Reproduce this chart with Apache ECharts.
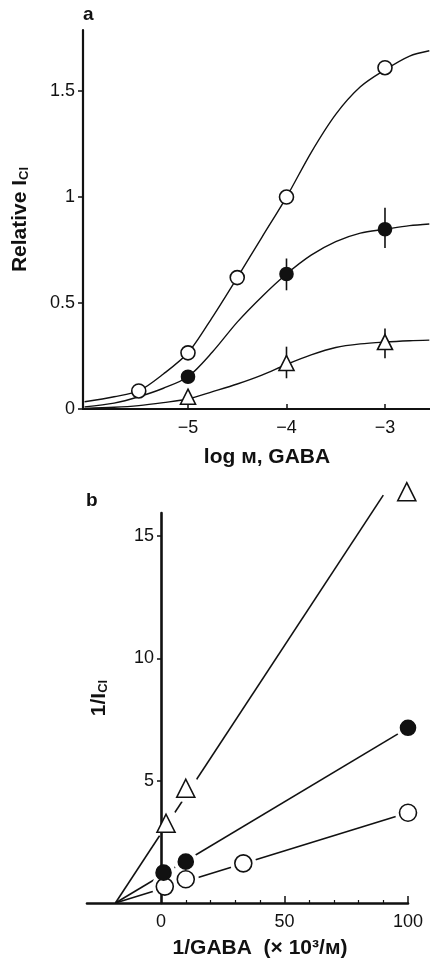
<!DOCTYPE html>
<html>
<head>
<meta charset="utf-8">
<script src="https://cdn.jsdelivr.net/npm/echarts@6/dist/echarts.min.js"></script>
<style>
  html, body { margin: 0; padding: 0; background: #fff; }
  #chart { width: 430px; height: 963px; }
</style>
</head>
<body>
<div id="chart"></div>
<script>
// panel a: dose-response, x = log M GABA
const aOpenX = [-5.5, -5, -4.5, -4, -3]
const aOpenY = [0.085, 0.265, 0.62, 1.0, 1.61]
const aFilledX = [-5, -4, -3]
const aFilledY = [0.152, 0.637, 0.848]
const aFilledLo = [null, 0.56, 0.76]
const aFilledHi = [null, 0.71, 0.95]
const aTriX = [-5, -4, -3]
const aTriY = [0.058, 0.217, 0.316]
const aTriLo = [null, 0.145, 0.24]
const aTriHi = [null, 0.294, 0.38]

// fitted curves
const curveX = [-6.05, -5.75, -5.5, -5.25, -5, -4.75, -4.5, -4.25, -4, -3.75, -3.5, -3.25, -3, -2.75, -2.55]
const openCurve = [0.034, 0.058, 0.085, 0.165, 0.265, 0.435, 0.62, 0.81, 1.0, 1.21, 1.39, 1.52, 1.6, 1.665, 1.69]
const filledCurve = [0.01, 0.028, 0.058, 0.098, 0.152, 0.27, 0.41, 0.53, 0.637, 0.726, 0.79, 0.83, 0.848, 0.865, 0.873]
const triCurve = [0.003, 0.008, 0.016, 0.03, 0.047, 0.082, 0.118, 0.16, 0.21, 0.255, 0.29, 0.307, 0.316, 0.322, 0.325]

const aTicksX = [-5, -4, -3]
const aTicksY = [0, 0.5, 1, 1.5]

// panel b: double reciprocal plot
const bOpenX = [1.5, 10, 33.3, 100]
const bOpenY = [0.67, 0.97, 1.62, 3.69]
const bFilledX = [1, 10, 100]
const bFilledY = [1.24, 1.69, 7.16]
const bTriX = [2, 10, 99.5]
const bTriY = [3.26, 4.69, 16.81]

// regression lines (ends)
const bOpenLine = [[-18.5, 0], [100, 3.69]]
const bFilledLine = [[-18.5, 0], [100, 7.16]]
const bTriLine = [[-18.5, 0], [90, 16.67]]

const bTicksX = [0, 50, 100]
const bMinorX = [10, 20, 30, 40, 60, 70, 80, 90]
const bTicksY = [5, 10, 15]

const font = 'Liberation Sans'
const zip = (xs, ys) => xs.map((x, i) => [x, ys[i]])
const errData = (xs, lo, hi) => xs.map((x, i) => [x, lo[i], hi[i]]).filter(d => d[1] != null)

const labelStyle = { fontFamily: font, fontSize: 18, color: '#111' }
const nameStyle = {
  fontFamily: font,
  fontSize: 21,
  fontWeight: 'bold',
  color: '#111'
}
const subRich = {
  sub: { fontFamily: font, fontSize: 13, fontWeight: 'bold', color: '#111', verticalAlign: 'bottom', lineHeight: 7 }
}

function errorBar(params, api) {
  const p1 = api.coord([api.value(0), api.value(1)])
  const p2 = api.coord([api.value(0), api.value(2)])
  return {
    type: 'line',
    shape: { x1: p1[0], y1: p1[1], x2: p2[0], y2: p2[1] },
    style: { stroke: '#111', lineWidth: 1.6 }
  }
}

function curve(data) {
  return {
    type: 'line',
    xAxisIndex: 0,
    yAxisIndex: 0,
    data: data,
    smooth: 0.3,
    showSymbol: false,
    lineStyle: { color: '#111', width: 1.4 },
    z: 1,
    silent: true
  }
}

function marks(xi, yi, data, symbol, size, filled) {
  return {
    type: 'scatter',
    xAxisIndex: xi,
    yAxisIndex: yi,
    data: data,
    symbol: symbol,
    symbolSize: size,
    clip: false,
    itemStyle: {
      color: filled ? '#111' : '#fff',
      borderColor: '#111',
      borderWidth: 1.6,
      opacity: 1
    },
    z: 5
  }
}

// white disc under panel b markers so the fitted lines stop short of them
function halo(data, size) {
  return {
    type: 'scatter',
    xAxisIndex: 2,
    yAxisIndex: 1,
    data: data,
    symbol: 'circle',
    symbolSize: size,
    clip: false,
    itemStyle: { color: '#fff', opacity: 1 },
    z: 2,
    silent: true
  }
}

function fitLine(data) {
  return {
    type: 'line',
    xAxisIndex: 2,
    yAxisIndex: 1,
    data: data,
    showSymbol: false,
    clip: false,
    lineStyle: { color: '#111', width: 1.6 },
    z: 1,
    silent: true
  }
}

const chart = echarts.init(document.getElementById('chart'))

const option = {
  backgroundColor: '#fff',
  animation: false,
  grid: [
    { left: 83, top: 30, width: 347, height: 379 },
    { left: 87, top: 513, width: 321, height: 390 }
  ],
  xAxis: [
    {
      type: 'value',
      gridIndex: 0,
      min: -6.066,
      max: -2.543,
      splitLine: { show: false },
      axisLine: { lineStyle: { color: '#111', width: 2.2 } },
      axisTick: { inside: true, length: 5, customValues: aTicksX, lineStyle: { color: '#111', width: 1.5 } },
      axisLabel: {
        customValues: aTicksX,
        margin: 10,
        formatter: v => (v < 0 ? '\u2212' + Math.abs(v) : String(v)),
        ...labelStyle
      },
      name: 'log \u043c, GABA',
      nameLocation: 'middle',
      nameGap: 38,
      nameTextStyle: { ...nameStyle, padding: [0, 0, 0, 21] },
      z: 3
    },
    {
      type: 'value',
      gridIndex: 1,
      min: -30,
      max: 100,
      splitLine: { show: false },
      axisLine: { lineStyle: { color: '#111', width: 2.6 } },
      axisTick: { inside: true, length: 7, customValues: [50, 100], lineStyle: { color: '#111', width: 1.5 } },
      axisLabel: { customValues: bTicksX, margin: 10, ...labelStyle },
      name: '1/GABA  (\u00d7 10\u00b3/\u043c)',
      nameLocation: 'middle',
      nameGap: 35,
      nameTextStyle: { ...nameStyle, padding: [0, 0, 0, 25] },
      z: 3
    },
    {
      // minor ticks for panel b
      type: 'value',
      gridIndex: 1,
      position: 'bottom',
      offset: 0,
      min: -30,
      max: 100,
      splitLine: { show: false },
      axisLine: { show: false },
      axisTick: { inside: true, length: 3, customValues: bMinorX, lineStyle: { color: '#111', width: 1.2 } },
      axisLabel: { show: false },
      z: 3
    }
  ],
  yAxis: [
    {
      type: 'value',
      gridIndex: 0,
      min: 0,
      max: 1.788,
      splitLine: { show: false },
      axisLine: { onZero: false, lineStyle: { color: '#111', width: 2.2 } },
      axisTick: { length: 5, customValues: aTicksY, lineStyle: { color: '#111', width: 1.5 } },
      axisLabel: { customValues: aTicksY, margin: 8, ...labelStyle },
      name: 'Relative I{sub|Cl}',
      nameLocation: 'middle',
      nameGap: 52,
      nameTextStyle: { ...nameStyle, rich: subRich },
      z: 3
    },
    {
      type: 'value',
      gridIndex: 1,
      min: 0,
      max: 15.94,
      // axis sits at x = 0, i.e. 74px right of the grid's left edge
      offset: -74,
      splitLine: { show: false },
      axisLine: { onZero: false, lineStyle: { color: '#111', width: 2.6 } },
      axisTick: { length: 4, customValues: bTicksY, lineStyle: { color: '#111', width: 1.5 } },
      axisLabel: { customValues: bTicksY, margin: 7, ...labelStyle },
      name: '1/I{sub|Cl}',
      nameLocation: 'middle',
      nameGap: 51,
      nameTextStyle: { ...nameStyle, padding: [0, 0, 0, 20], rich: subRich },
      z: 3
    }
  ],
  graphic: [
    { type: 'text', left: 83, top: 5, style: { text: 'a', font: 'bold 19px "Liberation Sans"', fill: '#111' } },
    { type: 'text', left: 86, top: 491, style: { text: 'b', font: 'bold 19px "Liberation Sans"', fill: '#111' } }
  ],
  series: [
    curve(zip(curveX, openCurve)),
    curve(zip(curveX, filledCurve)),
    curve(zip(curveX, triCurve)),
    {
      type: 'custom',
      xAxisIndex: 0,
      yAxisIndex: 0,
      renderItem: errorBar,
      data: errData(aFilledX, aFilledLo, aFilledHi),
      z: 4
    },
    {
      type: 'custom',
      xAxisIndex: 0,
      yAxisIndex: 0,
      renderItem: errorBar,
      data: errData(aTriX, aTriLo, aTriHi),
      z: 4
    },
    marks(0, 0, zip(aOpenX, aOpenY), 'circle', 14, false),
    marks(0, 0, zip(aFilledX, aFilledY), 'circle', 13, true),
    marks(0, 0, zip(aTriX, aTriY), 'triangle', 15, false),

    fitLine(bOpenLine),
    fitLine(bFilledLine),
    fitLine(bTriLine),
    halo(zip(bOpenX, bOpenY), 26),
    halo(zip(bFilledX, bFilledY), 24),
    halo(zip(bTriX, bTriY), 28),
    marks(2, 1, zip(bOpenX, bOpenY), 'circle', 17, false),
    marks(2, 1, zip(bFilledX, bFilledY), 'circle', 15, true),
    marks(2, 1, zip(bTriX, bTriY), 'triangle', 18, false)
  ]
}

chart.setOption(option)
</script>
</body>
</html>
